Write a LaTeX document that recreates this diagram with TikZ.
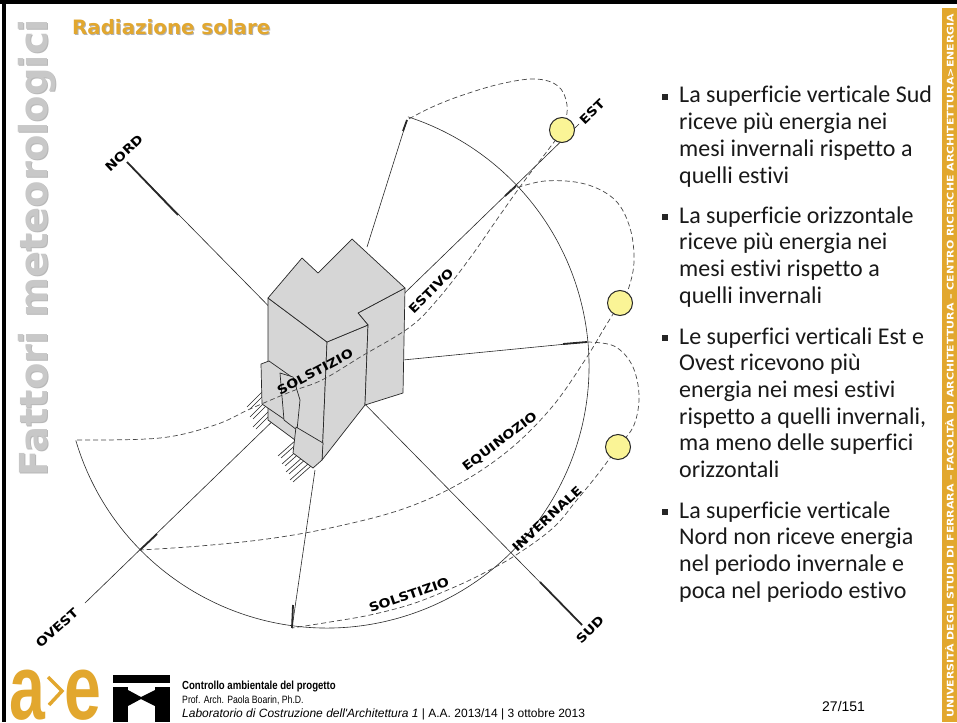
\documentclass[tikz,border=0pt]{standalone}
\usepackage{graphicx}
\usepackage{fontspec}
\setmainfont{Carlito}[Ligatures={NoCommon}]
\newfontfamily\headfont{DejaVu Sans}
\newfontfamily\capsfont[FakeStretch=1.15]{DejaVu Sans Bold}
\newfontfamily\footfont[FakeStretch=0.82]{Liberation Sans}
\newfontfamily\plainsans{Liberation Sans}
\usetikzlibrary{calc}
\definecolor{aeorange}{RGB}{226,167,46}
\definecolor{headgray}{RGB}{200,200,200}
\definecolor{wallgray}{RGB}{214,214,214}
\definecolor{sunfill}{RGB}{250,244,150}
\definecolor{ink}{RGB}{40,40,40}
\begin{document}
\begin{tikzpicture}[x=1pt,y=-1pt,
  axisline/.style={ink, line width=0.6pt},
  tickline/.style={ink, line width=1.8pt},
  pathline/.style={ink!85, line width=0.7pt, dash pattern=on 5pt off 3pt},
  horizon/.style={ink, line width=0.6pt},
  wall/.style={fill=wallgray, draw=ink, line width=0.7pt, line join=round},
  leg/.style={ink, line width=0.6pt},
  sun/.style={circle, draw=ink, line width=1pt, fill=sunfill, minimum size=25pt, inner sep=0pt},
  dlabel/.style={font=\capsfont\fontsize{12.3}{12}\selectfont, inner sep=0pt, text=black},
  bodytext/.style={font=\fontsize{24}{26}\selectfont, anchor=base west, inner sep=0pt, text=black!90},
  bulletsq/.style={fill=black!85},
  foottext/.style={font=\footfont\fontsize{10.6}{14}\selectfont, anchor=base west, inner sep=0pt},
]
\useasboundingbox (0,0) rectangle (957,722);
\fill[white] (0,0) rectangle (957,722);

% ---- slide frame ----
\fill[black] (0,0) rectangle (957,4);
\fill[black] (2,0) rectangle (6,722);
\fill[aeorange] (942,8) rectangle (957,722);
\node[rotate=90, anchor=west, inner sep=0pt, text=white] (strip) at (949.5,718)
  {\resizebox{704pt}{8.5pt}{\headfont\bfseries UNIVERSITÀ DEGLI STUDI DI FERRARA – FACOLTÀ DI ARCHITETTURA – CENTRO RICERCHE ARCHITETTURA>ENERGIA}};

% ---- headings ----
\node[rotate=90, anchor=base west, inner sep=0pt, text=black!28, font=\headfont\bfseries\fontsize{38.5}{38}\selectfont] (sideshadow) at (48,478) {Fattori meteorologici};
\node[rotate=90, anchor=base west, inner sep=0pt, text=headgray, font=\headfont\bfseries\fontsize{38.5}{38}\selectfont] (side) at (47,477) {Fattori meteorologici};
\node[anchor=base west, inner sep=0pt, text=black!30, font=\headfont\bfseries\fontsize{19.8}{20}\selectfont] (titleshadow) at (73,35.6) {Radiazione solare};
\node[anchor=base west, inner sep=0pt, text=aeorange, font=\headfont\bfseries\fontsize{19.8}{20}\selectfont] (title) at (72,34.5) {Radiazione solare};

% ---- centre of the compass ----
\coordinate (C) at (327,366);

% horizon circle (open towards north)
\draw[horizon] (C) ++(-196.5:262) arc[start angle=-196.5, end angle=-432, radius=262];

% cardinal axes
\coordinate (Nend) at (127,162);
\coordinate (Send) at (582,625);
\coordinate (Wend) at (85,603);
\coordinate (Eend) at (579,124);
\draw[axisline] (Nend) -- (Send);
\draw[axisline] (Wend) -- (Eend);
\draw[tickline] (Nend) -- (178,215);
\draw[tickline] (540,582) -- (Send);
\draw[tickline] (140,550) -- (157,534);
\draw[tickline] (505,196) -- (516,186);

% rays to sunrise / sunset points
\coordinate (SumRise) at (407,120);
\coordinate (WinRise) at (587,342);
\coordinate (WinSet) at (292,628);
\coordinate (SumSet) at (77,440);
\draw[axisline] (367,247) -- (SumRise);
\draw[axisline] (403,360) -- (WinRise);
\draw[axisline] (315,470) -- (WinSet);
\draw[tickline] (403,131) -- (SumRise);
\draw[tickline] (563,344) -- (WinRise);
\draw[tickline] (293,605) -- (WinSet);

% equinox path
\draw[pathline] plot[smooth, tension=0.6] coordinates {(510,190) (545,181) (585,184) (615,200) (630,228) (634,262) (628,290) (620,303) (605,327) (585,360) (552,407) (509,450) (457,485) (400,510) (330,528) (267,539) (200,546) (140,550)};
% winter solstice path
\draw[pathline] plot[smooth, tension=0.6] coordinates {(587,342) (614,346) (632,365) (639,395) (634,425) (618,447) (598,474) (576,501) (553,528) (516,555) (482,574) (450,589) (412,604) (370,615) (330,622) (292,628)};

% ---- building ----
% legs under the porch
\foreach \i in {0,1,2}{
  \draw[leg] ($(262,392)+(\i*3,\i*10)$) -- ++(-15,15);
  \draw[leg] ($(265,394)+(\i*3,\i*10)$) -- ++(-15,15);
}
\foreach \i in {0,1,2,3}{
  \draw[leg] ($(296,440)+(\i*4,\i*8)$) -- ++(-18,16);
  \draw[leg] ($(299,442)+(\i*4,\i*8)$) -- ++(-18,16);
}
\draw[wall] (268,298) -- (327,342) -- (322,460) -- (268,420) -- cycle;
\draw[wall] (327,342) -- (368,325) -- (365,405) -- (322,460) -- cycle;
\draw[wall] (358,313) -- (405,288) -- (403,393) -- (365,405) -- (368,325) -- cycle;
\draw[wall] (268,298) -- (302,258) -- (318,273) -- (352,239) -- (405,288) -- (358,313) -- (368,325) -- (327,342) -- cycle;
% porch
\draw[wall] (261,364) -- (269,361) -- (296,380) -- (297,428) -- (262,404) -- cycle;
\draw[wall] (280,373) -- (293,377) -- (300,400) -- (297,430) -- (284,420) -- cycle;
\draw[wall] (296,427) -- (323,443) -- (322,460) -- (313,468) -- (293,453) -- cycle;

% summer solstice path (drawn over the block)
\draw[pathline] plot[smooth, tension=0.6] coordinates {(77,440) (160,438) (215,425) (250,409) (290,392) (322,380) (362,356) (410,327) (438,299) (470,258) (500,215) (525,180) (548,150) (563,128) (567,105) (558,86) (535,79) (500,84) (460,96) (430,108) (407,120)};

% ---- suns ----
\node[sun] (sunE) at (562,130) {};
\node[sun] (sunEq) at (620,303) {};
\node[sun] (sunW) at (618,447) {};

% ---- diagram labels ----
\node[dlabel, rotate=43] (lN) at (124,153) {NORD};
\node[dlabel, rotate=44] (lE) at (592,112) {EST};
\node[dlabel, rotate=45] (lS) at (590,630) {SUD};
\node[dlabel, rotate=42] (lW) at (57,628) {OVEST};
\node[dlabel, rotate=45] (lEst) at (431,291) {ESTIVO};
\node[dlabel, rotate=28] (lSol1) at (315,372) {SOLSTIZIO};
\node[dlabel, rotate=37] (lEq) at (500,442) {EQUINOZIO};
\node[dlabel, rotate=43] (lInv) at (547,519) {INVERNALE};
\node[dlabel, rotate=19] (lSol2) at (409,595) {SOLSTIZIO};

% ---- bullet text ----
\foreach \b in {103,223,344,518}{ \fill[bulletsq] (661.5,\b-9) rectangle (667.5,\b-3); }
\node[bodytext] (a1) at (679,103) {La superficie verticale Sud};
\node[bodytext] (a2) at (679,129.7) {riceve più energia nei};
\node[bodytext] (a3) at (679,156.4) {mesi invernali rispetto a};
\node[bodytext] (a4) at (679,183.1) {quelli estivi};
\node[bodytext] (b1) at (679,223) {La superficie orizzontale};
\node[bodytext] (b2) at (679,249.7) {riceve più energia nei};
\node[bodytext] (b3) at (679,276.4) {mesi estivi rispetto a};
\node[bodytext] (b4) at (679,303.1) {quelli invernali};
\node[bodytext] (c1) at (679,344) {Le superfici verticali Est e};
\node[bodytext] (c2) at (679,370.7) {Ovest ricevono più};
\node[bodytext] (c3) at (679,397.4) {energia nei mesi estivi};
\node[bodytext] (c4) at (679,424.1) {rispetto a quelli invernali,};
\node[bodytext] (c5) at (679,450.8) {ma meno delle superfici};
\node[bodytext] (c6) at (679,477.5) {orizzontali};
\node[bodytext] (d1) at (679,518) {La superficie verticale};
\node[bodytext] (d2) at (679,544.7) {Nord non riceve energia};
\node[bodytext] (d3) at (679,571.4) {nel periodo invernale e};
\node[bodytext] (d4) at (679,598.1) {poca nel periodo estivo};

% ---- footer ----
\node[anchor=base west, inner sep=0pt, text=aeorange, font=\plainsans\bfseries\fontsize{92}{92}\selectfont] (logoa) at (9,719) {\scalebox{0.7}[1]{a}};
\draw[aeorange, line width=3.5pt, line join=miter] (48,677) -- (62,691) -- (49,705);
\node[anchor=base west, inner sep=0pt, text=aeorange, font=\plainsans\bfseries\fontsize{92}{92}\selectfont] (logoe) at (64,719) {\scalebox{0.72}[1]{e}};
\fill[black] (113,675) rectangle (170,683);
\fill[black] (113,687) rectangle (128,722);
\fill[black] (155,687) rectangle (170,722);
\fill[black] (128,690) -- (141,697) -- (155,690) -- (155,706) -- (141,699) -- (128,706) -- cycle;
\node[foottext, font=\footfont\bfseries\fontsize{11.7}{14}\selectfont] (f1) at (182,689) {Controllo ambientale del progetto};
\node[foottext] (f2) at (182,703) {Prof. Arch. Paola Boarin, Ph.D.};
\node[foottext, font=\plainsans\fontsize{12}{14}\selectfont] (f3) at (182,717) {\itshape Laboratorio di Costruzione dell'Architettura 1\upshape{} | A.A. 2013/14 | 3 ottobre 2013};
\node[anchor=base west, inner sep=0pt, font=\plainsans\fontsize{14}{14}\selectfont] (pg) at (822,711) {27/151};
\end{tikzpicture}
\end{document}
